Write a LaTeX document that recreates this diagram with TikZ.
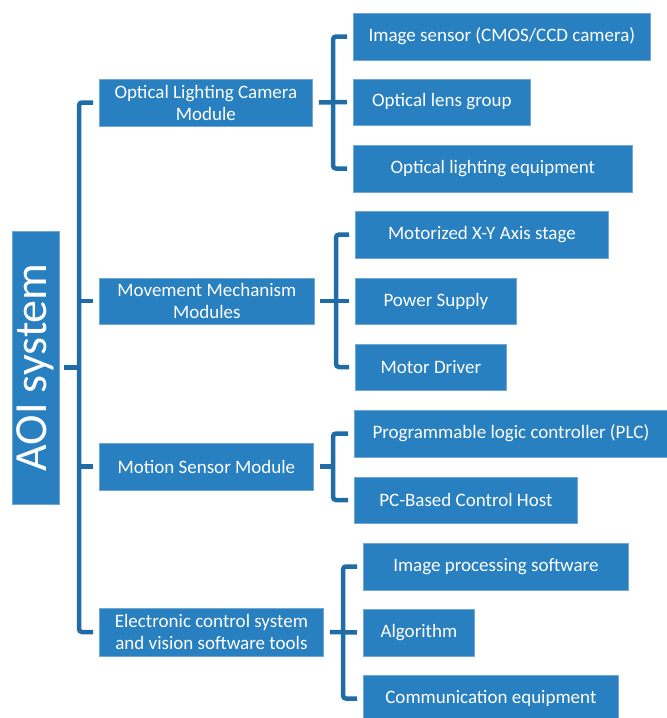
\documentclass[tikz,border=0pt]{standalone}
\usepackage{fontspec}
\setmainfont{Carlito}
\definecolor{boxblue}{RGB}{40,128,193}
\definecolor{edgeblue}{RGB}{115,168,212}
\definecolor{lineblue}{RGB}{31,108,166}
\tikzset{
  box/.style={draw=edgeblue, line width=0.8pt, fill=boxblue, text=white, inner sep=0pt,
    minimum height=47pt, align=center, font=\fontsize{19}{22}\selectfont},
  bracket/.style={draw=lineblue, line width=4.5pt, rounded corners=3pt}
}
\begin{document}
\begin{tikzpicture}[x=1pt, y=-1pt]
\useasboundingbox (0,0) rectangle (667,718);
% root
\node[box, rotate=90, minimum width=273pt, minimum height=47pt, font=\fontsize{46}{50}\selectfont] (aoi) at (35.5,367.5) {AOI system};
% modules
\node[box, anchor=west, minimum width=213pt] (m1) at (99,102.5) {Optical Lighting Camera\\Module};
\node[box, anchor=west, minimum width=215pt, minimum height=46pt] (m2) at (99,301) {Movement Mechanism\\Modules};
\node[box, anchor=west, minimum width=214pt] (m3) at (99,466.5) {Motion Sensor Module};
\node[box, anchor=west, minimum width=224pt, minimum height=48pt] (m4) at (99,632) {Electronic control system\\and vision software tools};
% parts
\node[box, anchor=west, minimum width=297pt] (a1) at (353,36.5) {Image sensor (CMOS/CCD camera)};
\node[box, anchor=west, minimum width=177pt, minimum height=46pt] (a2) at (353,102) {Optical lens group};
\node[box, anchor=west, minimum width=279pt] (a3) at (353,168.5) {Optical lighting equipment};
\node[box, anchor=west, minimum width=253pt] (b1) at (355,234.5) {Motorized X-Y Axis stage};
\node[box, anchor=west, minimum width=161pt, minimum height=46pt] (b2) at (355,301) {Power Supply};
\node[box, anchor=west, minimum width=151pt, minimum height=46pt] (b3) at (355,367) {Motor Driver};
\node[box, anchor=west, minimum width=313pt] (c1) at (354,433.5) {Programmable logic controller (PLC)};
\node[box, anchor=west, minimum width=223pt, minimum height=46pt] (c2) at (354,500) {PC-Based Control Host};
\node[box, anchor=west, minimum width=265pt] (d1) at (363,566.5) {Image processing software};
\node[box, anchor=west, minimum width=111pt] (d2) at (363,632.5) {Algorithm};
\node[box, anchor=west, minimum width=255pt] (d3) at (363,698.5) {Communication equipment};
% bracket spines (only x matters)
\coordinate (tk) at (79,0);
\coordinate (g1) at (333,0);
\coordinate (g2) at (336,0);
\coordinate (g3) at (333,0);
\coordinate (g4) at (343,0);
% trunk
\draw[bracket] ([xshift=-6pt]m1.west) -- (tk |- m1.west) -- (tk |- m4.west) -- ([xshift=-6pt]m4.west);
\draw[bracket] ([xshift=-6pt]m2.west) -- (tk |- m2.west);
\draw[bracket] ([xshift=-6pt]m3.west) -- (tk |- m3.west);
\draw[bracket] ([xshift=5pt]aoi.south) -- (tk |- aoi.south);
% group 1
\draw[bracket] ([xshift=-6pt]a1.west) -- (g1 |- a1.west) -- (g1 |- a3.west) -- ([xshift=-6pt]a3.west);
\draw[bracket] ([xshift=6pt]m1.east) -- ([xshift=-6pt]a2.west);
% group 2
\draw[bracket] ([xshift=-6pt]b1.west) -- (g2 |- b1.west) -- (g2 |- b3.west) -- ([xshift=-6pt]b3.west);
\draw[bracket] ([xshift=5pt]m2.east) -- ([xshift=-6pt]b2.west);
% group 3
\draw[bracket] ([xshift=-6pt]c1.west) -- (g3 |- c1.west) -- (g3 |- c2.west) -- ([xshift=-6pt]c2.west);
\draw[bracket] ([xshift=6pt]m3.east) -- (g3 |- m3.east);
% group 4
\draw[bracket] ([xshift=-6pt]d1.west) -- (g4 |- d1.west) -- (g4 |- d3.west) -- ([xshift=-6pt]d3.west);
\draw[bracket] ([xshift=6pt]m4.east) -- ([xshift=-6pt]d2.west);
\end{tikzpicture}
\end{document}
